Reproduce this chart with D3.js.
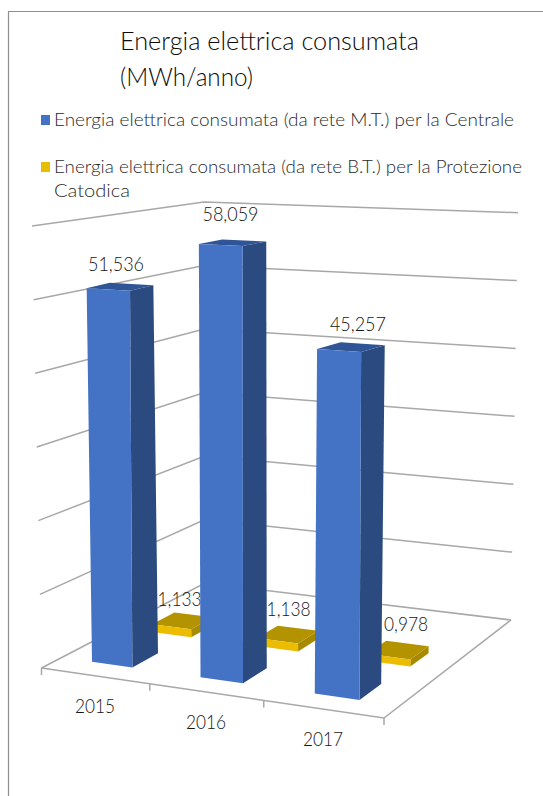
<!DOCTYPE html>
<html>
<head>
<meta charset="utf-8">
<script src="https://cdn.jsdelivr.net/npm/d3@7"></script>
<style>
html,body{margin:0;padding:0;background:#fff}
svg{display:block}
text{font-family:Lato,"Open Sans",sans-serif;font-weight:300}
</style>
</head>
<body>
<svg id="chart" width="543" height="796"></svg>
<script>
// Chart values (MWh/anno)
const years = ["2015", "2016", "2017"];
const mediaTensione = [51.536, 58.059, 45.257];
const bassaTensione = [1.133, 1.138, 0.978];
const valueTicks = [0, 10, 20, 30, 40, 50, 60];
const titleLines = ["Energia elettrica consumata", "(MWh/anno)"];
const seriesNames = [
  ["Energia elettrica consumata (da rete M.T.) per la Centrale"],
  ["Energia elettrica consumata (da rete B.T.) per la Protezione", "Catodica"]
];

const GRID = "#a8a8a8", INK = "#141414";
const svg = d3.select("#chart");

// Maps the unit square onto a screen quadrilateral, giving the box its perspective
function quadMap([p0, p1, p2, p3]) {
  const dx1 = p1[0] - p2[0], dx2 = p3[0] - p2[0], sx = p0[0] - p1[0] + p2[0] - p3[0];
  const dy1 = p1[1] - p2[1], dy2 = p3[1] - p2[1], sy = p0[1] - p1[1] + p2[1] - p3[1];
  const den = dx1 * dy2 - dx2 * dy1;
  const g = (sx * dy2 - dx2 * sy) / den, h = (dx1 * sy - sx * dy1) / den;
  const a = p1[0] - p0[0] + g * p1[0], b = p3[0] - p0[0] + h * p3[0];
  const d = p1[1] - p0[1] + g * p1[1], e = p3[1] - p0[1] + h * p3[1];
  return (u, v) => {
    const q = g * u + h * v + 1;
    return [(a * u + b * v + p0[0]) / q, (d * u + e * v + p0[1]) / q];
  };
}

// Plain two-way interpolation, used for the full-height plane above the columns
function bilinear([p0, p1, p2, p3]) {
  return (u, v) => [0, 1].map(k =>
    (1 - v) * ((1 - u) * p0[k] + u * p1[k]) + v * ((1 - u) * p3[k] + u * p2[k]));
}

// Box corners in order: front-left, front-right, back-right, back-left
const floorAt = quadMap([[41.5, 668], [384, 718], [511, 620], [205, 583]]);
const ceilAt = quadMap([[32, 226], [390, 245], [518, 212.7], [204, 202]]);
const columnCeilAt = bilinear([[36, 228.4], [382.6, 243.4], [545.6, 216.7], [186, 201.7]]);

const heightScale = d3.scaleLinear().domain([0, 60]).range([0, 1]);
const yearScale = d3.scaleBand().domain(years).range([0, 1]);
const yearCentre = y => yearScale(y) + yearScale.bandwidth() / 2;

const project = (u, v, value, ceil = ceilAt, nudge = [0, 0]) => {
  const w = heightScale(value), f = floorAt(u, v), c = ceil(u, v);
  return [f[0] + (c[0] + nudge[0] - f[0]) * w, f[1] + (c[1] + nudge[1] - f[1]) * w];
};
const poly = pts => "M" + pts.map(p => p.join(",")).join("L") + "Z";

// Frame around the chart area
svg.append("path").attr("d", "M8.5,796V11.5H543").attr("fill", "none")
  .attr("stroke", "#8e8e8e").attr("stroke-width", 1.2);

// Walls and floor
const grid = svg.append("g").attr("fill", "none").attr("stroke", GRID).attr("stroke-width", 1.5);
grid.selectAll("path.wall").data(valueTicks).join("path").attr("class", "wall")
  .attr("d", t => d3.line()([project(0, 0, t), project(0, 1, t), project(1, 1, t)]));
grid.append("path").attr("d", d3.line()([project(0, 0, 0), project(1, 0, 0), project(1, 1, 0)]));
const tickEdges = [0, 1 / 3, 2 / 3, 1];
grid.selectAll("path.tick").data(tickEdges).join("path").attr("class", "tick")
  .attr("d", u => {
    const p = project(u, 0, 0);
    return d3.line()([p, [p[0], p[1] + 7]]);
  });

// One 3D column: right side, top and front faces
function column(g, centre, value, v0, v1, halfWidth, colors, ceil, nudge) {
  const u0 = centre - halfWidth, u1 = centre + halfWidth;
  const faces = [
    [[[u1, v0, 0], [u1, v1, 0], [u1, v1, value], [u1, v0, value]], colors.side],
    [[[u0, v0, value], [u1, v0, value], [u1, v1, value], [u0, v1, value]], colors.top],
    [[[u0, v0, 0], [u1, v0, 0], [u1, v0, value], [u0, v0, value]], colors.front]
  ];
  g.selectAll(null).data(faces).join("path")
    .attr("d", d => poly(d[0].map(p => project(p[0], p[1], p[2], ceil, nudge))))
    .attr("fill", d => d[1]);
}

const blue = { front: "#4472c4", side: "#2a4a80", top: "#2f5597" };
const gold = { front: "#ebbc00", side: "#a88a00", top: "#b39400" };

// Back row first so the taller front columns overlap it
const backRow = svg.append("g");
years.forEach((y, i) => column(backRow, yearCentre(y) + 0.005, bassaTensione[i], 0.44, 0.58, 0.063, gold));

const fmt = v => d3.format(".3f")(v).replace(".", ",");
const label = (text, x, y, len, size) => svg.append("text")
  .attr("x", x).attr("y", y).attr("fill", INK)
  .attr("font-size", size)
  .attr("textLength", len).attr("lengthAdjust", "spacingAndGlyphs")
  .text(text);

// Values of the back row, placed from the top of each column
const backOffsets = [[-1, -15], [3, -19], [10, -20]];
bassaTensione.forEach((v, i) => {
  const p = project(yearCentre(years[i]), 0.5, v);
  label(fmt(v), p[0] + backOffsets[i][0] - 21, p[1] + backOffsets[i][1], 44, 19);
});

const frontRow = svg.append("g");
const topNudges = [[0, 0], [-3, -2.5], [0, 0]];
years.forEach((y, i) => column(frontRow, yearCentre(y) - 0.008, mediaTensione[i], 0.11, 0.26, 0.063, blue, columnCeilAt, topNudges[i]));

const frontOffsets = [[-4, -16], [-2, -22], [7, -16]];
mediaTensione.forEach((v, i) => {
  const p = project(yearCentre(years[i]) - 0.008, 0.185, v, columnCeilAt, topNudges[i]);
  label(fmt(v), p[0] + frontOffsets[i][0] - 28, p[1] + frontOffsets[i][1], 56, 19);
});

// Category labels under the front edge
years.forEach(y => {
  const p = project(yearCentre(y), 0, 0);
  label(y, p[0] - 20, p[1] + 37, 40, 19);
});

// Title
titleLines.forEach((t, i) => {
  label(t, 120, 50 + i * 36, i === 0 ? 299 : 133, 25).attr("fill", "#0c0c0c");
});

// Legend
const swatches = ["#4472c4", "#e8bc00"];
const legendY = [126, 173];
const legendLens = [[460], [468, 76]];
seriesNames.forEach((lines, s) => {
  svg.append("rect").attr("x", 41).attr("y", legendY[s] - 11).attr("width", 9).attr("height", 10).attr("fill", swatches[s]);
  lines.forEach((t, i) => label(t, 54, legendY[s] + i * 24, legendLens[s][i], 17.5).attr("fill", "#2a2a2a"));
});
</script>
</body>
</html>
